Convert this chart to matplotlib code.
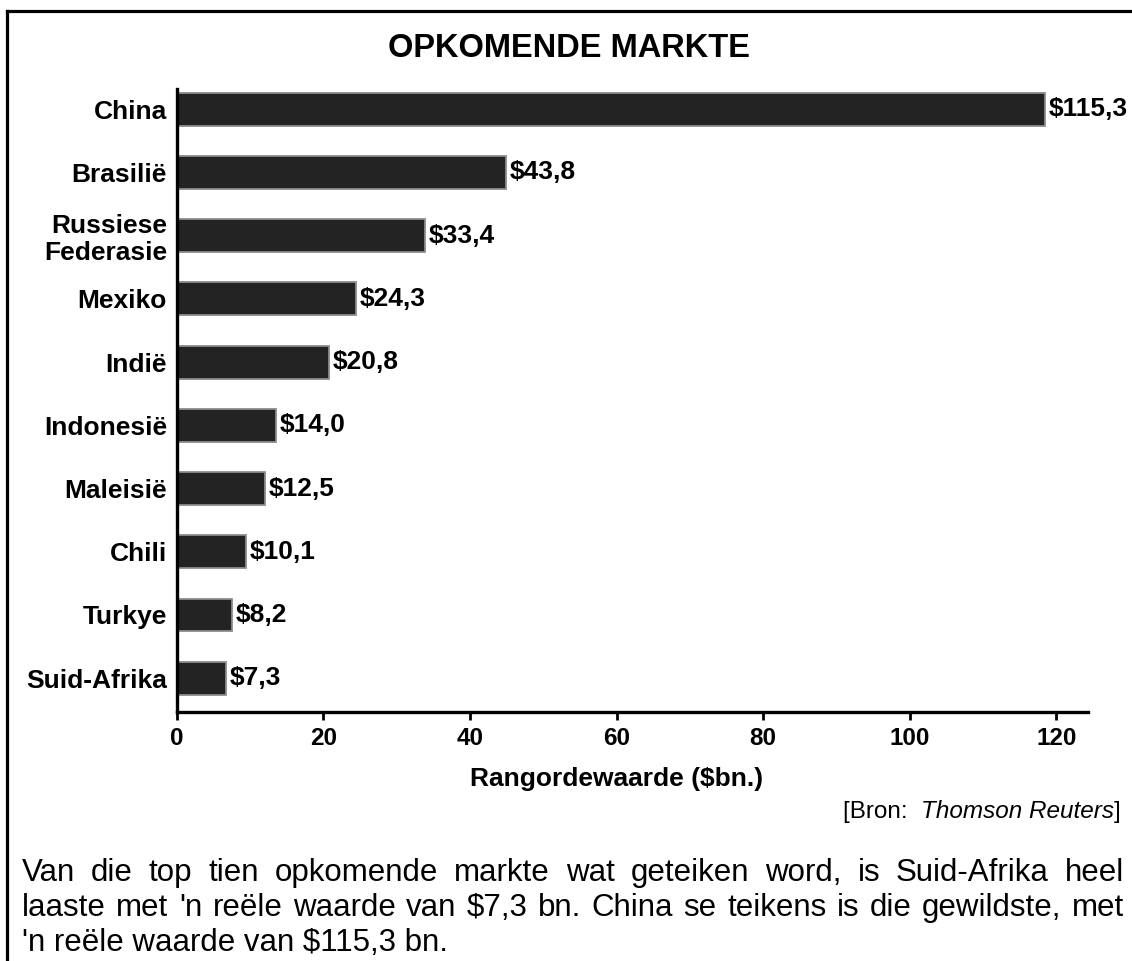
import matplotlib.pyplot as plt
from matplotlib.lines import Line2D

plt.rcParams['font.family'] = ['Liberation Sans', 'DejaVu Sans']

# data (top to bottom)
countries = ['China', 'Brasilië', 'Russiese\nFederasie', 'Mexiko', 'Indië',
             'Indonesië', 'Maleisië', 'Chili', 'Turkye', 'Suid-Afrika']
bar_lengths = [118.5, 44.9, 33.9, 24.5, 20.8, 13.5, 12.0, 9.5, 7.5, 6.7]
value_labels = ['$115,3', '$43,8', '$33,4', '$24,3', '$20,8',
                '$14,0', '$12,5', '$10,1', '$8,2', '$7,3']
xticks = [0, 20, 40, 60, 80, 100, 120]

title = 'OPKOMENDE MARKTE'
xlabel = 'Rangordewaarde ($bn.)'
para_lines = [
    "Van die top tien opkomende markte wat geteiken word, is Suid-Afrika heel",
    "laaste met 'n reële waarde van $7,3 bn. China se teikens is die gewildste, met",
    "'n reële waarde van $115,3 bn.",
]

W, H = 1132, 961
fig = plt.figure(figsize=(W / 100, H / 100), dpi=100)
fig.patch.set_facecolor('white')


def fx(px):
    return px / W


def fy(py):
    return 1 - py / H


# axes box in pixels: left 176.7, right 1088, top 89, bottom 711.7
ax = fig.add_axes([fx(176.7), fy(711.7), fx(1088 - 176.7), (711.7 - 89) / H])

n = len(countries)
ypos = list(range(n - 1, -1, -1))
ax.barh(ypos, bar_lengths, height=0.52, color='#232323',
        edgecolor='#8c8c8c', linewidth=1.3)

for y, v, lab in zip(ypos, bar_lengths, value_labels):
    ax.text(v + 0.5, y, lab, va='center', ha='left', fontsize=19,
            fontweight='bold')

ax.set_xlim(0, 124.3)
ax.set_ylim(-0.53, n - 1 + 0.32)
ax.set_yticks(ypos)
ax.set_yticklabels(countries, fontsize=19, fontweight='bold', linespacing=1.15)
ax.set_xticks(xticks)
ax.set_xticklabels([str(t) for t in xticks], fontsize=17.5, fontweight='bold')
ax.tick_params(axis='y', length=0, pad=7)
ax.tick_params(axis='x', length=6, width=2, pad=5)

for s in ['top', 'right']:
    ax.spines[s].set_visible(False)
for s in ['left', 'bottom']:
    ax.spines[s].set_linewidth(2.4)

ax.set_xlabel(xlabel, fontsize=19, fontweight='bold')
ax.xaxis.set_label_coords(60 / 124.3, -0.089)
ax.xaxis.label.set_va('top')

# title
fig.text(fx(569), fy(57), title, ha='center', va='baseline', fontsize=23.5,
         fontweight='bold')

# frame (left and top edges only)
fig.add_artist(Line2D([fx(6.5), fx(6.5)], [0, fy(10.5)], color='black', lw=2.3))
fig.add_artist(Line2D([fx(6.5), 1], [fy(10.5), fy(10.5)], color='black', lw=2.3))

fig.canvas.draw()
r = fig.canvas.get_renderer()


def width(t):
    return t.get_window_extent(renderer=r).width


# source line, right aligned
src_y = fy(818)
t3 = fig.text(fx(1121), src_y, ']', ha='right', va='baseline', fontsize=17.5)
x_end = 1121 - width(t3)
t2 = fig.text(fx(x_end), src_y, 'Thomson Reuters', ha='right', va='baseline',
              fontsize=17.5, style='italic')
x_end -= width(t2)
fig.text(fx(x_end), src_y, '[Bron:  ', ha='right', va='baseline', fontsize=17.5)

# paragraph, justified between x=22 and x=1124
left, right = 22, 1124
baselines = [881, 916, 951]
for i, (line, by) in enumerate(zip(para_lines, baselines)):
    if i == len(para_lines) - 1:
        fig.text(fx(left), fy(by), line, ha='left', va='baseline', fontsize=22.5)
        continue
    words = line.split(' ')
    texts = [fig.text(0, fy(by), w, ha='left', va='baseline', fontsize=22.5)
             for w in words]
    widths = [width(t) for t in texts]
    gap = (right - left - sum(widths)) / (len(words) - 1)
    x = left
    for t, w in zip(texts, widths):
        t.set_x(fx(x))
        x += w + gap

fig.savefig('out.png', dpi=100, facecolor='white')
